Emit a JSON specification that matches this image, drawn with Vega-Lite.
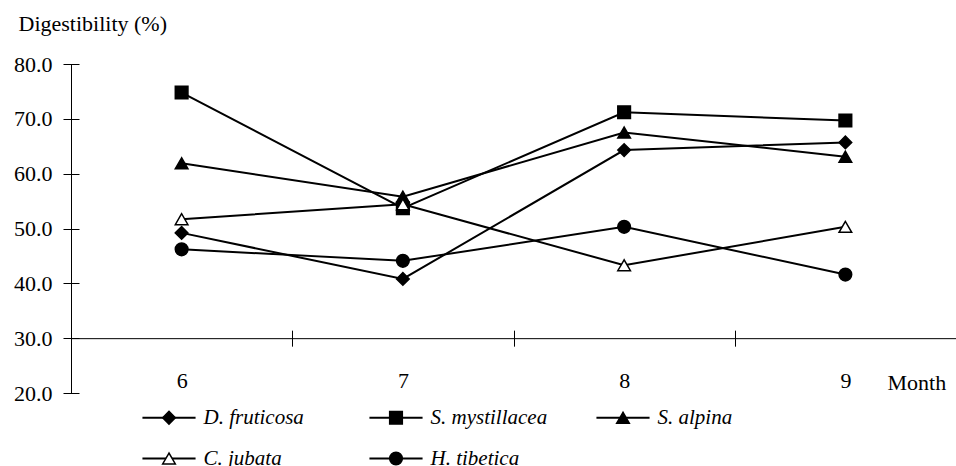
{
  "$schema": "https://vega.github.io/schema/vega-lite/v6.json",
  "width": 885,
  "height": 329,
  "autosize": "none",
  "padding": {"left": 71, "top": 64, "right": 0, "bottom": 73},
  "background": "white",
  "config": {
    "view": {"stroke": null},
    "font": "Liberation Serif",
    "axis": {
      "domainColor": "black", "domainWidth": 1, "tickColor": "black", "tickWidth": 1,
      "labelColor": "black", "titleColor": "black",
      "labelFont": "Liberation Serif", "titleFont": "Liberation Serif",
      "labelFontSize": 22, "titleFontSize": 22, "titleFontWeight": "normal", "grid": false
    }
  },
  "data": {
    "values": [
      {"Month": "6", "Species": "D. fruticosa", "Digestibility": 49.2},
      {"Month": "7", "Species": "D. fruticosa", "Digestibility": 40.8},
      {"Month": "8", "Species": "D. fruticosa", "Digestibility": 64.3},
      {"Month": "9", "Species": "D. fruticosa", "Digestibility": 65.7},
      {"Month": "6", "Species": "S. mystillacea", "Digestibility": 74.8},
      {"Month": "7", "Species": "S. mystillacea", "Digestibility": 53.7},
      {"Month": "8", "Species": "S. mystillacea", "Digestibility": 71.2},
      {"Month": "9", "Species": "S. mystillacea", "Digestibility": 69.7},
      {"Month": "6", "Species": "S. alpina", "Digestibility": 61.9},
      {"Month": "7", "Species": "S. alpina", "Digestibility": 55.8},
      {"Month": "8", "Species": "S. alpina", "Digestibility": 67.5},
      {"Month": "9", "Species": "S. alpina", "Digestibility": 63.1},
      {"Month": "6", "Species": "C. jubata", "Digestibility": 51.7},
      {"Month": "7", "Species": "C. jubata", "Digestibility": 54.4},
      {"Month": "8", "Species": "C. jubata", "Digestibility": 43.3},
      {"Month": "9", "Species": "C. jubata", "Digestibility": 50.3},
      {"Month": "6", "Species": "H. tibetica", "Digestibility": 46.2},
      {"Month": "7", "Species": "H. tibetica", "Digestibility": 44.1},
      {"Month": "8", "Species": "H. tibetica", "Digestibility": 50.3},
      {"Month": "9", "Species": "H. tibetica", "Digestibility": 41.6}
    ]
  },
  "layer": [
    {
      "mark": {"type": "line", "strokeWidth": 2, "color": "black"},
      "encoding": {
        "x": {
          "field": "Month", "type": "ordinal",
          "scale": {"type": "band", "paddingInner": 0, "paddingOuter": 0},
          "axis": {"orient": "bottom", "offset": -54.83, "domain": true, "ticks": false, "labels": false, "title": null}
        },
        "y": {
          "field": "Digestibility", "type": "quantitative",
          "scale": {"domain": [20, 80], "nice": false, "zero": false},
          "axis": {
            "orient": "left", "domain": true, "ticks": false, "labels": false,
            "title": "Digestibility (%)", "titleAngle": 0, "titleX": -53, "titleY": -34,
            "titleAlign": "left", "titleBaseline": "alphabetic"
          }
        },
        "color": {
          "field": "Species", "type": "nominal",
          "sort": ["D. fruticosa", "S. mystillacea", "S. alpina", "C. jubata", "H. tibetica"],
          "scale": {"range": ["black", "black", "black", "black", "black"]},
          "legend": {
            "orient": "none", "legendX": 87.5, "legendY": 343,
            "direction": "horizontal", "columns": 3, "gridAlign": "all",
            "columnPadding": 44, "rowPadding": 19, "title": null, "padding": 0,
            "symbolType": "M-4.2,0H4.2", "symbolSize": 160, "symbolStrokeWidth": 2,
            "labelFont": "Liberation Serif", "labelFontStyle": "italic", "labelFontSize": 21,
            "labelColor": "black", "labelOffset": 24, "labelLimit": 0
          }
        }
      }
    },
    {
      "mark": {"type": "point", "filled": false, "size": 160, "stroke": "black", "strokeWidth": 1.5, "opacity": 1},
      "encoding": {
        "x": {
          "field": "Month", "type": "ordinal",
          "scale": {"type": "band", "paddingInner": 0, "paddingOuter": 0},
          "axis": {
            "orient": "bottom", "offset": -62.83, "domain": false, "ticks": true, "tickSize": 16,
            "tickBand": "extent", "labels": true, "labelAngle": 0, "labelPadding": 24,
            "title": "Month", "titleX": 816, "titleY": 59, "titleAlign": "left", "titleBaseline": "alphabetic"
          }
        },
        "y": {
          "field": "Digestibility", "type": "quantitative",
          "scale": {"domain": [20, 80], "nice": false, "zero": false},
          "axis": {
            "orient": "left", "offset": -8, "domain": false, "ticks": true, "tickSize": 16,
            "values": [20, 30, 40, 50, 60, 70, 80], "format": ".1f", "labelPadding": 11,
            "labelFlush": false, "labelOverlap": false, "title": null
          }
        },
        "shape": {
          "field": "Species", "type": "nominal",
          "scale": {
            "domain": ["D. fruticosa", "S. mystillacea", "S. alpina", "C. jubata", "H. tibetica"],
            "range": ["diamond", "square", "triangle-up", "triangle-up", "circle"]
          },
          "legend": {
            "orient": "none", "legendX": 87.5, "legendY": 343,
            "direction": "horizontal", "columns": 3, "gridAlign": "all",
            "columnPadding": 65, "rowPadding": 19, "title": null, "padding": 0,
            "symbolSize": 160, "symbolStrokeWidth": 1.5,
            "labelFont": "Liberation Serif", "labelFontStyle": "italic", "labelFontSize": 21,
            "labelOpacity": 0, "labelOffset": 24, "labelLimit": 0
          }
        },
        "fill": {
          "field": "Species", "type": "nominal",
          "scale": {
            "domain": ["D. fruticosa", "S. mystillacea", "S. alpina", "C. jubata", "H. tibetica"],
            "range": ["black", "black", "black", "white", "black"]
          },
          "legend": {
            "orient": "none", "legendX": 87.5, "legendY": 343,
            "direction": "horizontal", "columns": 3, "gridAlign": "all",
            "columnPadding": 65, "rowPadding": 19, "title": null, "padding": 0,
            "symbolSize": 160, "symbolStrokeWidth": 1.5,
            "labelFont": "Liberation Serif", "labelFontStyle": "italic", "labelFontSize": 21,
            "labelOpacity": 0, "labelOffset": 24, "labelLimit": 0
          }
        }
      }
    }
  ],
  "resolve": {"axis": {"x": "independent", "y": "independent"}}
}
